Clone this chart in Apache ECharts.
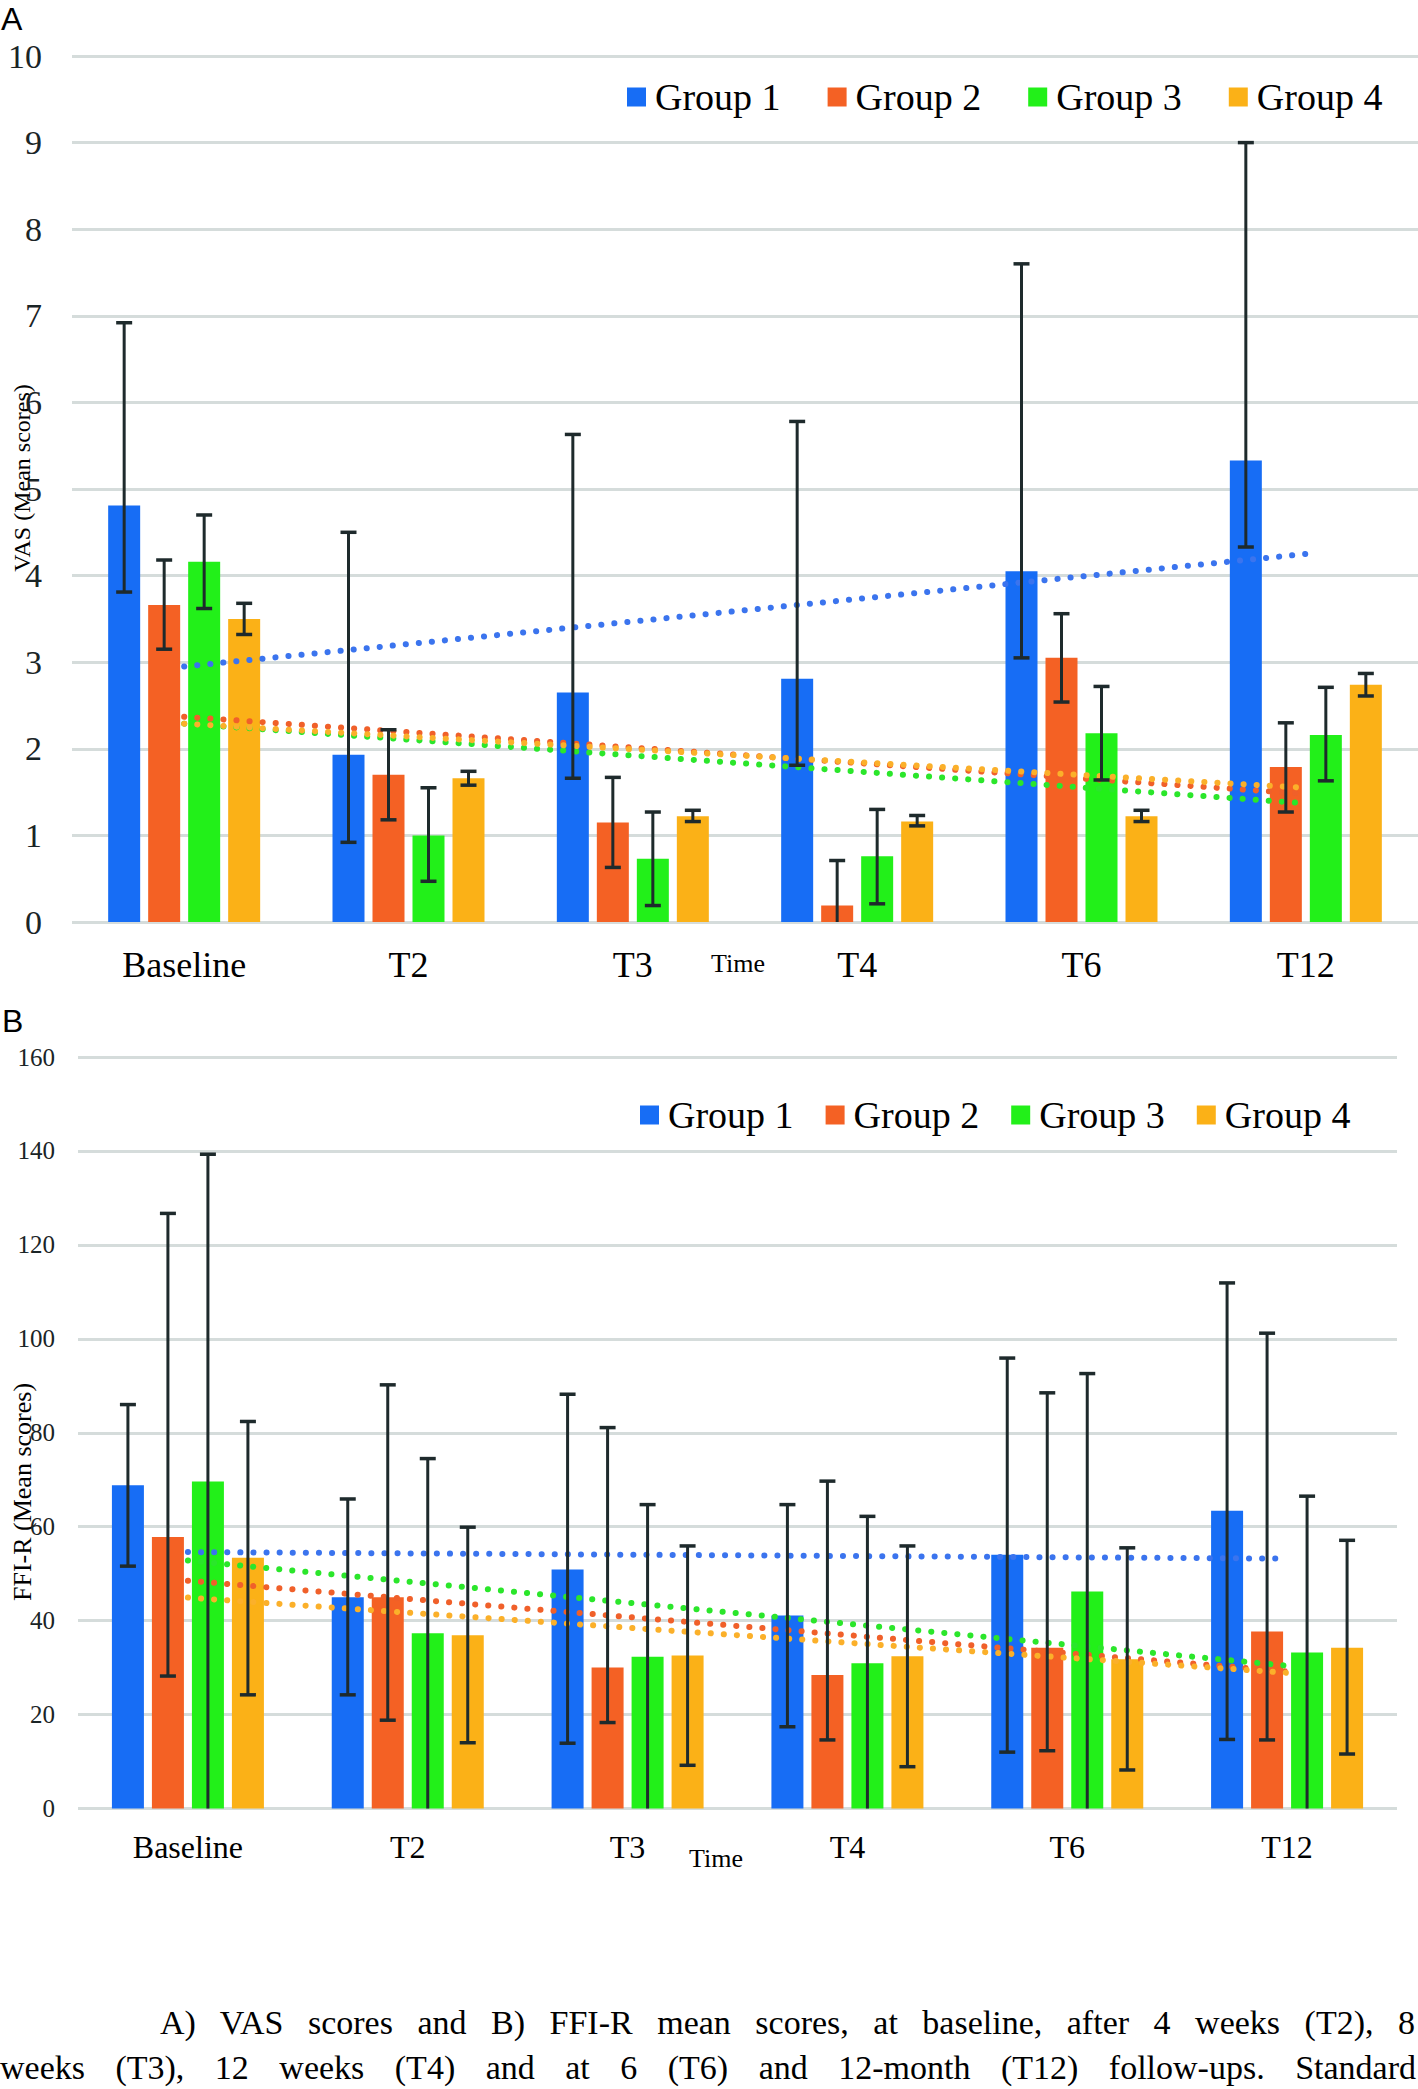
<!DOCTYPE html>
<html>
<head>
<meta charset="utf-8">
<script src="https://cdn.jsdelivr.net/npm/echarts@6/dist/echarts.min.js"></script>
<style>
html,body{margin:0;padding:0;background:#fff;}
#chart{position:absolute;left:0;top:0;width:1418px;height:1990px;}
.cap{position:absolute;font-family:'Liberation Serif','Times New Roman',serif;font-size:34px;line-height:40px;color:#000;text-align:justify;text-align-last:justify;}
</style>
</head>
<body>
<div id="chart"></div>
<div class="cap" style="left:160px;top:2003px;width:1255px;">A) VAS scores and B) FFI-R mean scores, at baseline, after 4 weeks (T2), 8</div>
<div class="cap" style="left:0px;top:2048px;width:1416px;">weeks (T3), 12 weeks (T4) and at 6 (T6) and 12-month (T12) follow-ups. Standard</div>
<script>
// ---------- data ----------
const categories = ['Baseline', 'T2', 'T3', 'T4', 'T6', 'T12'];
const groupNames = ['Group 1', 'Group 2', 'Group 3', 'Group 4'];

// A) VAS mean scores
const vasGroup1 = [4.81, 1.93, 2.65, 2.81, 4.05, 5.33];
const vasGroup2 = [3.66, 1.70, 1.15, 0.19, 3.05, 1.79];
const vasGroup3 = [4.16, 1.00, 0.73, 0.76, 2.18, 2.16];
const vasGroup4 = [3.50, 1.66, 1.22, 1.16, 1.22, 2.74];
// VAS error bar ends (low / high)
const vasLow1  = [3.81, 0.92, 1.66, 1.81, 3.05, 4.33];
const vasHigh1 = [6.92, 4.50, 5.63, 5.78, 7.60, 9.00];
const vasLow2  = [3.15, 1.18, 0.63, 0.00, 2.54, 1.27];
const vasHigh2 = [4.18, 2.22, 1.67, 0.71, 3.56, 2.30];
const vasLow3  = [3.62, 0.47, 0.19, 0.21, 1.64, 1.63];
const vasHigh3 = [4.70, 1.55, 1.27, 1.30, 2.72, 2.71];
const vasLow4  = [3.32, 1.58, 1.16, 1.11, 1.16, 2.61];
const vasHigh4 = [3.68, 1.74, 1.29, 1.23, 1.29, 2.87];
// VAS linear trend lines (value at Baseline, value at T12), per group
const vasTrendStart = [2.95, 2.37, 2.29, 2.29];
const vasTrendEnd   = [4.25, 1.48, 1.37, 1.55];

// B) FFI-R mean scores
const ffiGroup1 = [68.8, 45.0, 50.9, 41.1, 54.0, 63.4];
const ffiGroup2 = [57.8, 45.0, 30.0, 28.4, 34.2, 37.7];
const ffiGroup3 = [69.6, 37.3, 32.3, 30.9, 46.2, 33.2];
const ffiGroup4 = [53.4, 36.9, 32.6, 32.4, 31.8, 34.2];
const ffiLow1  = [51.6, 24.2, 13.9, 17.4, 12.0, 14.7];
const ffiHigh1 = [86.0, 65.9, 88.2, 64.7, 95.9, 111.9];
const ffiLow2  = [28.2, 18.8, 18.3, 14.6, 12.3, 14.6];
const ffiHigh2 = [126.7, 90.2, 81.1, 69.7, 88.5, 101.2];
const ffiLow3  = [0, 0, 0, 0, 0, 0];
const ffiHigh3 = [139.3, 74.5, 64.7, 62.2, 92.6, 66.5];
const ffiLow4  = [24.2, 14.0, 9.2, 8.9, 8.2, 11.6];
const ffiHigh4 = [82.4, 59.9, 55.9, 55.9, 55.5, 57.1];
const ffiTrendStart = [54.6, 48.5, 52.8, 44.9];
const ffiTrendEnd   = [53.2, 29.2, 30.4, 28.9];

const vasTicks = {min: 0, max: 10, interval: 1};
const ffiTicks = {min: 0, max: 160, interval: 20};

// ---------- styling ----------
const barColors = ['#176df5', '#f46124', '#22f019', '#fbb117'];
const trendColors = ['#3b74ee', '#f0602a', '#2be62b', '#fbb02a'];
const barOffsets = [-60, -20, 20, 60];
const errColor = '#1e2a2c';
const gridColor = '#d5dcdb';
const serif = 'Liberation Serif';

const chart = echarts.init(document.getElementById('chart'), null, {renderer: 'svg'});

function bars(gi, datas) {
  return datas.map((d, k) => ({
    type: 'bar', name: groupNames[k], data: d,
    xAxisIndex: gi, yAxisIndex: gi,
    barWidth: 32, barGap: '25%',
    itemStyle: {color: barColors[k]},
    z: 2, silent: true, animation: false
  }));
}
function trends(gi, starts, ends) {
  return starts.map((s, k) => ({
    type: 'line', name: groupNames[k] + ' trend',
    data: [[0, s], [categories.length - 1, ends[k]]],
    xAxisIndex: gi, yAxisIndex: gi,
    symbol: 'none', silent: true, animation: false, z: 3,
    lineStyle: {color: trendColors[k], width: 6, type: [0.1, 13], cap: 'round'}
  }));
}
function errors(gi, lows, highs) {
  return lows.map((lo, k) => {
    const off = barOffsets[k];
    return {
      type: 'custom', name: groupNames[k] + ' error',
      xAxisIndex: gi, yAxisIndex: gi, z: 10, silent: true, animation: false,
      data: categories.map((c, i) => [i, lo[i], highs[k][i]]),
      encode: {x: 0, y: [1, 2]},
      renderItem: function (params, api) {
        const i = api.value(0), l = api.value(1), h = api.value(2);
        const x = api.coord([i, 0])[0] + off;
        const yH = api.coord([i, h])[1];
        const yL = api.coord([i, Math.max(l, 0)])[1];
        const st = {stroke: errColor, lineWidth: 3};
        const capSt = {stroke: errColor, lineWidth: 3.5};
        const ch = [
          {type: 'line', shape: {x1: x, y1: yH, x2: x, y2: yL}, style: st},
          {type: 'line', shape: {x1: x - 8, y1: yH, x2: x + 8, y2: yH}, style: capSt}
        ];
        if (l > 0) ch.push({type: 'line', shape: {x1: x - 8, y1: yL, x2: x + 8, y2: yL}, style: capSt});
        return {type: 'group', children: ch};
      }
    };
  });
}

function xAxis(gi, fontSize, margin) {
  return {
    type: 'category', data: categories, gridIndex: gi,
    axisLine: {show: false}, axisTick: {show: false},
    axisLabel: {fontFamily: serif, fontSize: fontSize, color: '#000', margin: margin},
    splitLine: {show: false}
  };
}
function yAxis(gi, ticks, fontSize, margin) {
  return {
    type: 'value', gridIndex: gi, min: ticks.min, max: ticks.max, interval: ticks.interval,
    axisLine: {show: false}, axisTick: {show: false},
    axisLabel: {fontFamily: serif, fontSize: fontSize, color: '#1a2426', margin: margin},
    splitLine: {lineStyle: {color: gridColor, width: 3}}
  };
}
function legend(left, top, gap) {
  return {
    data: groupNames, left: left, top: top, padding: 0,
    icon: 'rect', itemWidth: 19, itemHeight: 19, itemGap: gap,
    selectedMode: false,
    textStyle: {fontFamily: serif, fontSize: 38, color: '#000', padding: [0, 0, 0, 4]}
  };
}
function label(text, x, y, font, align) {
  return {type: 'text', x: x, y: y, silent: true,
    style: {text: text, font: font, fill: '#000', textAlign: align || 'left', textVerticalAlign: 'middle'}};
}
function vlabel(text, x, y, font) {
  return {type: 'text', x: x, y: y, rotation: Math.PI / 2, silent: true,
    style: {text: text, font: font, fill: '#000', textAlign: 'center', textVerticalAlign: 'middle'}};
}

const option = {
  animation: false,
  backgroundColor: '#fff',
  grid: [
    {left: 72, top: 56, width: 1346, height: 866},
    {left: 78, top: 1057, width: 1319, height: 751.5}
  ],
  xAxis: [xAxis(0, 36, 25), xAxis(1, 32, 22)],
  yAxis: [yAxis(0, vasTicks, 34, 30), yAxis(1, ffiTicks, 25, 23)],
  legend: [legend(627, 78, 47), legend(640, 1096, 32)],
  graphic: [
    label('A', 1, 19, '32px Liberation Sans'),
    label('B', 2, 1021, '32px Liberation Sans'),
    label('Time', 711, 963, '26px Liberation Serif'),
    label('Time', 689, 1858, '26px Liberation Serif'),
    vlabel('VAS (Mean scores)', 22, 478, '24px Liberation Serif'),
    vlabel('FFI-R (Mean scores)', 22, 1492, '26px Liberation Serif')
  ],
  series: [].concat(
    bars(0, [vasGroup1, vasGroup2, vasGroup3, vasGroup4]),
    trends(0, vasTrendStart, vasTrendEnd),
    errors(0, [vasLow1, vasLow2, vasLow3, vasLow4], [vasHigh1, vasHigh2, vasHigh3, vasHigh4]),
    bars(1, [ffiGroup1, ffiGroup2, ffiGroup3, ffiGroup4]),
    trends(1, ffiTrendStart, ffiTrendEnd),
    errors(1, [ffiLow1, ffiLow2, ffiLow3, ffiLow4], [ffiHigh1, ffiHigh2, ffiHigh3, ffiHigh4])
  )
};
chart.setOption(option);
</script>
</body>
</html>
